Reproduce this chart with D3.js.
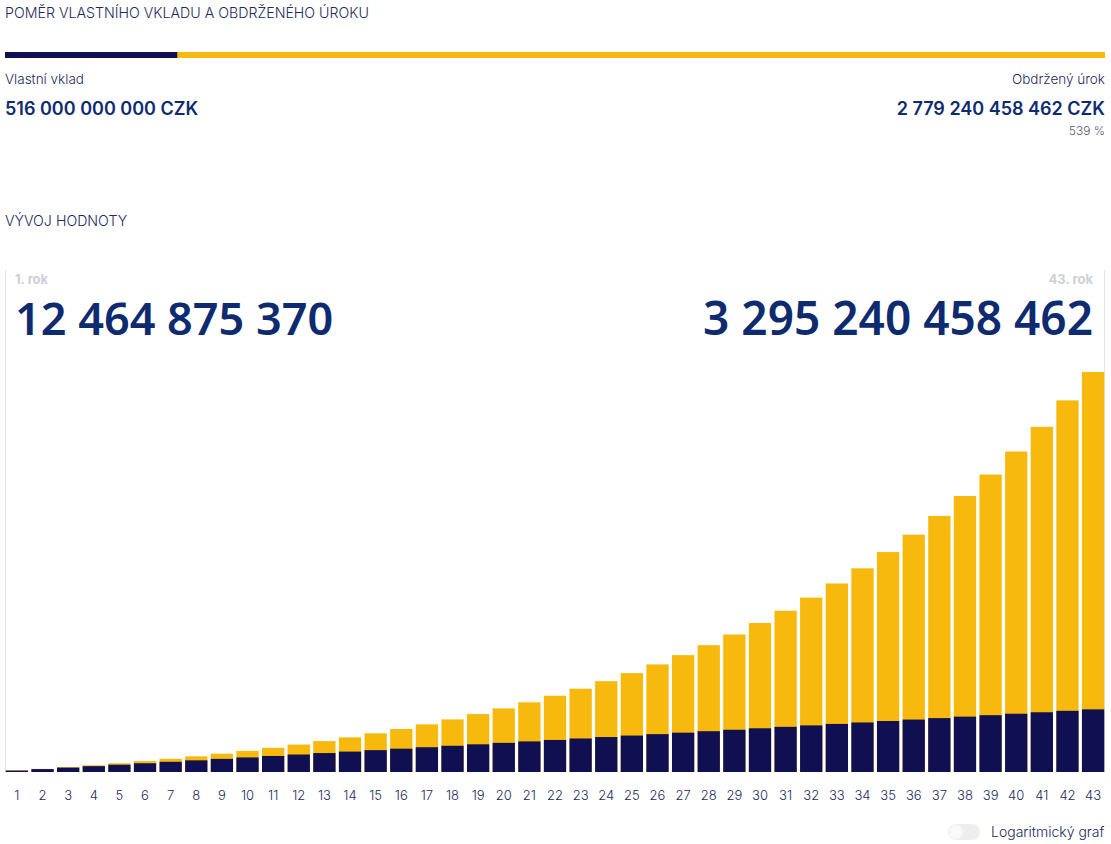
<!DOCTYPE html>
<html>
<head>
<meta charset="utf-8">
<script src="https://cdn.jsdelivr.net/npm/d3@7"></script>
<style>
  html, body { margin: 0; padding: 0; background: #fff; }
  svg { display: block; font-family: Inter, "Noto Sans", sans-serif; }
</style>
</head>
<body>
<div id="chart"></div>
<script>
// roky 1..43
const years = d3.range(1, 44);

// vlastní vklad kumulativně (mld. CZK)
const deposits = [12, 24, 36, 48, 60, 72, 84, 96, 108, 120, 132, 144, 156, 168, 180, 192,
  204, 216, 228, 240, 252, 264, 276, 288, 300, 312, 324, 336, 348, 360, 372, 384, 396,
  408, 420, 432, 444, 456, 468, 480, 492, 504, 516];

// celková hodnota na konci roku (mld. CZK)
const totals = [12.46, 25.8, 40.2, 55.5, 72.0, 89.7, 108.6, 129.0, 150.7, 174.1, 199.2,
  226.0, 254.8, 285.7, 318.8, 354.4, 392.4, 433.3, 477.1, 524.0, 574.3, 628.3, 686.2,
  748.3, 814.8, 886.2, 962.7, 1044.8, 1132.8, 1227.2, 1328.3, 1436.8, 1553.1, 1677.9,
  1811.7, 1955.1, 2108.9, 2273.8, 2450.6, 2640.3, 2843.6, 3061.6, 3295.24];

const summary = {
  deposit: '516 000 000 000 CZK',
  interest: '2 779 240 458 462 CZK',
  percent: '539 %',
  firstLabel: '1. rok',
  firstValue: '12 464 875 370',
  lastLabel: '43. rok',
  lastValue: '3 295 240 458 462'
};

const NAVY = '#0f0f52';
const YELLOW = '#f8b90e';
const TEXT = '#1d2a5a';
const BIG = '#0f2b70';

const W = 1111, H = 844;
const svg = d3.select('#chart').append('svg').attr('width', W).attr('height', H);

// nadpis
svg.append('text').attr('x', 5).attr('y', 18)
  .attr('fill', TEXT).attr('font-size', 14.2).attr('font-weight', 300)
  .text('POMĚR VLASTNÍHO VKLADU A OBDRŽENÉHO ÚROKU');

// poměrový proužek
const last = totals.length - 1;
const ratio = d3.scaleLinear().domain([0, totals[last]]).range([5, 1105]);
svg.append('rect').attr('x', ratio(0)).attr('y', 52)
  .attr('width', ratio(totals[last]) - ratio(0)).attr('height', 6).attr('fill', YELLOW);
svg.append('rect').attr('x', ratio(0)).attr('y', 52)
  .attr('width', ratio(deposits[last]) - ratio(0)).attr('height', 6).attr('fill', NAVY);

svg.append('text').attr('x', 5).attr('y', 84)
  .attr('fill', TEXT).attr('font-size', 13.5).attr('font-weight', 300).text('Vlastní vklad');
svg.append('text').attr('x', 5).attr('y', 115)
  .attr('fill', BIG).attr('font-size', 18).attr('font-weight', 600).text(summary.deposit);

svg.append('text').attr('x', 1105).attr('y', 84).attr('text-anchor', 'end')
  .attr('fill', TEXT).attr('font-size', 13.5).attr('font-weight', 300).text('Obdržený úrok');
svg.append('text').attr('x', 1105).attr('y', 115).attr('text-anchor', 'end')
  .attr('fill', BIG).attr('font-size', 18).attr('font-weight', 600).text(summary.interest);
svg.append('text').attr('x', 1105).attr('y', 135).attr('text-anchor', 'end')
  .attr('fill', '#555a6e').attr('font-size', 12).attr('font-weight', 300).text(summary.percent);

svg.append('text').attr('x', 5).attr('y', 226)
  .attr('fill', TEXT).attr('font-size', 14.2).attr('font-weight', 300).text('VÝVOJ HODNOTY');

// graf
const margin = { top: 270, right: 6, bottom: 72, left: 5 };
const g = svg.append('g');

const x = d3.scaleBand().domain(years).range([margin.left, W - margin.right]).paddingInner(0.13).paddingOuter(0.03);
const y = d3.scaleLinear().domain([0, 3295.24]).range([772, 372]);

g.append('line').attr('x1', 5.5).attr('x2', 5.5).attr('y1', 270).attr('y2', 772)
  .attr('stroke', '#e4e4e8').attr('stroke-width', 1);
g.append('line').attr('x1', 1104.5).attr('x2', 1104.5).attr('y1', 270).attr('y2', 772)
  .attr('stroke', '#e4e4e8').attr('stroke-width', 1);

g.append('text').attr('x', 15).attr('y', 284)
  .attr('fill', '#cfd0d4').attr('font-size', 13).attr('font-weight', 700).text(summary.firstLabel);
g.append('text').attr('x', 15).attr('y', 335)
  .attr('fill', BIG).attr('font-family', '"Noto Sans", sans-serif')
  .attr('font-size', 45).attr('font-weight', 600).text(summary.firstValue);

g.append('text').attr('x', 1093).attr('y', 284).attr('text-anchor', 'end')
  .attr('fill', '#cfd0d4').attr('font-size', 13).attr('font-weight', 700).text(summary.lastLabel);
g.append('text').attr('x', 1093).attr('y', 335).attr('text-anchor', 'end')
  .attr('fill', BIG).attr('font-family', '"Noto Sans", sans-serif')
  .attr('font-size', 46).attr('font-weight', 600).text(summary.lastValue);

// sloupce: celková hodnota (žlutá) a vklad (modrá)
g.selectAll('.total').data(years).join('rect')
  .attr('class', 'total')
  .attr('x', d => x(d)).attr('width', x.bandwidth())
  .attr('y', (d, i) => y(totals[i]))
  .attr('height', (d, i) => y(0) - y(totals[i]))
  .attr('fill', YELLOW);

g.selectAll('.deposit').data(years).join('rect')
  .attr('class', 'deposit')
  .attr('x', d => x(d)).attr('width', x.bandwidth())
  .attr('y', (d, i) => y(deposits[i]))
  .attr('height', (d, i) => y(0) - y(deposits[i]))
  .attr('fill', NAVY);

// osa x
const axis = g.append('g').attr('transform', 'translate(0,772)')
  .call(d3.axisBottom(x).tickSize(0).tickPadding(19));
axis.select('.domain').remove();
axis.selectAll('text')
  .attr('fill', TEXT).attr('font-size', 13).attr('font-weight', 300)
  .style('font-family', 'Inter, "Noto Sans", sans-serif');

// přepínač
svg.append('rect').attr('x', 948).attr('y', 824).attr('width', 32).attr('height', 16)
  .attr('rx', 8).attr('fill', '#eeeeee');
svg.append('circle').attr('cx', 956).attr('cy', 832).attr('r', 7).attr('fill', '#fafafa');
svg.append('text').attr('x', 991).attr('y', 837)
  .attr('fill', TEXT).attr('font-size', 14).attr('font-weight', 300).text('Logaritmický graf');
</script>
</body>
</html>
